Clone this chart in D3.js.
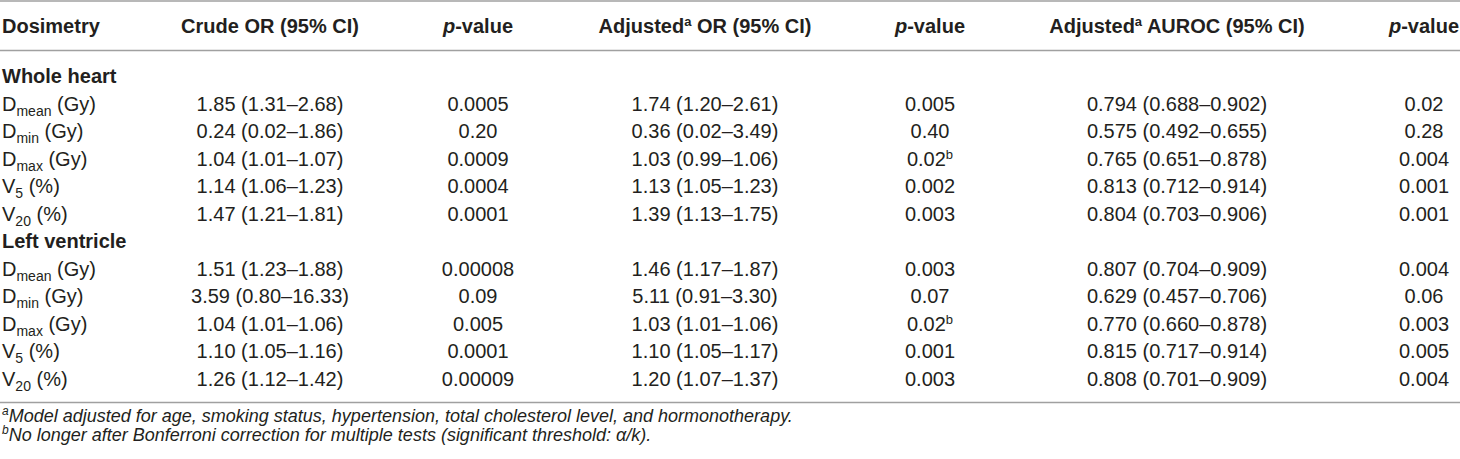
<!DOCTYPE html>
<html>
<head>
<meta charset="utf-8">
<script src="https://cdn.jsdelivr.net/npm/d3@7"></script>
<style>
  body { margin: 0; background: #fff; }
  text { font-family: "Liberation Sans", Arial, sans-serif; fill: #231f20; }
</style>
</head>
<body>
<script>
// table content
let sections = ["Whole heart", "Left ventricle"];
let dosBase = ["D", "D", "D", "V", "V"];
let dosSub = ["mean", "min", "max", "5", "20"];
let dosUnit = ["(Gy)", "(Gy)", "(Gy)", "(%)", "(%)"];

let crudeOR = [
  ["1.85 (1.31–2.68)", "0.24 (0.02–1.86)", "1.04 (1.01–1.07)", "1.14 (1.06–1.23)", "1.47 (1.21–1.81)"],
  ["1.51 (1.23–1.88)", "3.59 (0.80–16.33)", "1.04 (1.01–1.06)", "1.10 (1.05–1.16)", "1.26 (1.12–1.42)"]
];
let crudeP = [
  ["0.0005", "0.20", "0.0009", "0.0004", "0.0001"],
  ["0.00008", "0.09", "0.005", "0.0001", "0.00009"]
];
let adjOR = [
  ["1.74 (1.20–2.61)", "0.36 (0.02–3.49)", "1.03 (0.99–1.06)", "1.13 (1.05–1.23)", "1.39 (1.13–1.75)"],
  ["1.46 (1.17–1.87)", "5.11 (0.91–3.30)", "1.03 (1.01–1.06)", "1.10 (1.05–1.17)", "1.20 (1.07–1.37)"]
];
let adjP = [
  ["0.005", "0.40", "0.02", "0.002", "0.003"],
  ["0.003", "0.07", "0.02", "0.001", "0.003"]
];
let adjPNote = [
  ["", "", "b", "", ""],
  ["", "", "b", "", ""]
];
let auroc = [
  ["0.794 (0.688–0.902)", "0.575 (0.492–0.655)", "0.765 (0.651–0.878)", "0.813 (0.712–0.914)", "0.804 (0.703–0.906)"],
  ["0.807 (0.704–0.909)", "0.629 (0.457–0.706)", "0.770 (0.660–0.878)", "0.815 (0.717–0.914)", "0.808 (0.701–0.909)"]
];
let aurocP = [
  ["0.02", "0.28", "0.004", "0.001", "0.001"],
  ["0.004", "0.06", "0.003", "0.005", "0.004"]
];

let colKeys = ["crudeOR", "crudeP", "adjOR", "adjP", "auroc", "aurocP"];

let svg = d3.select("body").append("svg")
  .attr("width", 1460)
  .attr("height", 459);

let width = +svg.attr("width");
let height = +svg.attr("height");

let fs = 20; // body font size

// column centres
let xCol = d3.scaleOrdinal()
  .domain(colKeys)
  .range([270, 478, 705, 930, 1177, 1424]);

// body rows: 2 section titles + 10 dosimetry rows
let yRow = d3.scaleLinear()
  .domain([0, 11])
  .range([83, 385.5]);

/*
  RULES
*/
let rule = (y) => svg.append("line")
  .attr("x1", 0).attr("x2", width)
  .attr("y1", y).attr("y2", y)
  .attr("stroke", "#a0a0a0")
  .attr("stroke-width", 1.6);

rule(1);
rule(50.5);
rule(402.5);

/*
  HEADER
*/
let header = svg.append("g")
  .attr("font-size", fs)
  .attr("font-weight", "bold");

header.append("text")
  .attr("x", 2).attr("y", 33)
  .text("Dosimetry");

header.append("text")
  .attr("x", xCol("crudeOR")).attr("y", 33)
  .attr("text-anchor", "middle")
  .text("Crude OR (95% CI)");

["crudeP", "adjP", "aurocP"].forEach(k => {
  let t = header.append("text")
    .attr("x", xCol(k)).attr("y", 33)
    .attr("text-anchor", "middle");
  t.append("tspan").attr("font-style", "italic").text("p");
  t.append("tspan").text("-value");
});

[["adjOR", " OR (95% CI)"], ["auroc", " AUROC (95% CI)"]].forEach(([k, rest]) => {
  let t = header.append("text")
    .attr("x", xCol(k)).attr("y", 33)
    .attr("text-anchor", "middle");
  t.append("tspan").text("Adjusted");
  t.append("tspan").attr("font-size", 13).attr("dy", -7).text("a");
  t.append("tspan").attr("dy", 7).text(rest);
});

/*
  BODY
*/
let body = svg.append("g")
  .attr("font-size", fs);

sections.forEach((s, si) => {
  let base = si * 6;

  body.append("text")
    .attr("x", 2).attr("y", yRow(base))
    .attr("font-weight", "bold")
    .text(s);

  dosBase.forEach((b, i) => {
    let y = yRow(base + 1 + i);

    let lab = body.append("text").attr("x", 2).attr("y", y);
    lab.append("tspan").text(b);
    lab.append("tspan").attr("font-size", 14).attr("dy", 5).text(dosSub[i]);
    lab.append("tspan").attr("dy", -5).text(" " + dosUnit[i]);

    let cells = [
      ["crudeOR", crudeOR[si][i]],
      ["crudeP", crudeP[si][i]],
      ["adjOR", adjOR[si][i]],
      ["auroc", auroc[si][i]],
      ["aurocP", aurocP[si][i]]
    ];
    cells.forEach(([k, v]) => {
      body.append("text")
        .attr("x", xCol(k)).attr("y", y)
        .attr("text-anchor", "middle")
        .text(v);
    });

    let p = body.append("text")
      .attr("x", xCol("adjP")).attr("y", y)
      .attr("text-anchor", "middle");
    p.append("tspan").text(adjP[si][i]);
    if (adjPNote[si][i]) {
      p.append("tspan").attr("font-size", 13).attr("dy", -7).text(adjPNote[si][i]);
    }
  });
});

/*
  FOOTNOTES
*/
let notes = svg.append("g")
  .attr("font-size", 18)
  .attr("font-style", "italic");

let n1 = notes.append("text").attr("x", 2).attr("y", 422);
n1.append("tspan").attr("font-size", 12).attr("dy", -7).text("a");
n1.append("tspan").attr("dy", 7).text("Model adjusted for age, smoking status, hypertension, total cholesterol level, and hormonotherapy.");

let n2 = notes.append("text").attr("x", 2).attr("y", 441);
n2.append("tspan").attr("font-size", 12).attr("dy", -7).text("b");
n2.append("tspan").attr("dy", 7).text("No longer after Bonferroni correction for multiple tests (significant threshold: α/k).");
</script>
</body>
</html>
